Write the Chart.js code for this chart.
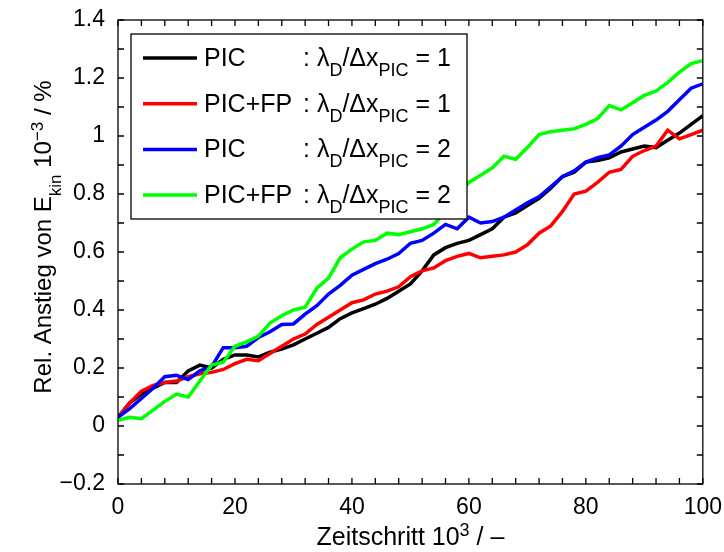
<!DOCTYPE html>
<html>
<head>
<meta charset="utf-8">
<script src="https://cdn.jsdelivr.net/npm/chart.js@4.4.1/dist/chart.umd.min.js"></script>
<style>
  html, body { margin: 0; padding: 0; background: #fff; }
  #wrap { width: 724px; height: 552px; }
</style>
</head>
<body>
<div id="wrap"><canvas id="chart" width="724" height="552"></canvas></div>
<script>
// Zeitschritt (10^3)
const steps = [0, 2, 4, 6, 8, 10, 12, 14, 16, 18, 20, 22, 24, 26, 28, 30, 32, 34, 36, 38, 40,
  42, 44, 46, 48, 50, 52, 54, 56, 58, 60, 62, 64, 66, 68, 70, 72, 74, 76, 78, 80,
  82, 84, 86, 88, 90, 92, 94, 96, 98, 100];

// Rel. Anstieg von E_kin (10^-3 %)
const picRatio1 = [0.03, 0.08, 0.11, 0.13, 0.15, 0.15, 0.19, 0.21, 0.20, 0.23,
  0.245, 0.245, 0.238, 0.255, 0.265, 0.28, 0.30, 0.32, 0.34, 0.37,
  0.39, 0.405, 0.42, 0.44, 0.465, 0.49, 0.535, 0.59, 0.615, 0.63,
  0.64, 0.66, 0.68, 0.72, 0.735, 0.76, 0.785, 0.82, 0.86, 0.875,
  0.91, 0.915, 0.925, 0.945, 0.955, 0.965, 0.96, 0.985, 1.01, 1.04, 1.07];
const picFpRatio1 = [0.03, 0.08, 0.12, 0.14, 0.15, 0.155, 0.17, 0.18, 0.185, 0.195,
  0.215, 0.23, 0.225, 0.25, 0.275, 0.30, 0.317, 0.35, 0.375, 0.40,
  0.425, 0.435, 0.455, 0.465, 0.48, 0.515, 0.535, 0.545, 0.57, 0.585,
  0.595, 0.58, 0.585, 0.59, 0.60, 0.625, 0.665, 0.69, 0.74, 0.80,
  0.81, 0.84, 0.875, 0.885, 0.93, 0.95, 0.965, 1.02, 0.99, 1.005, 1.02];
const picRatio2 = [0.03, 0.06, 0.095, 0.13, 0.17, 0.175, 0.16, 0.19, 0.205, 0.27,
  0.27, 0.275, 0.305, 0.325, 0.35, 0.352, 0.386, 0.415, 0.455, 0.485,
  0.52, 0.54, 0.56, 0.575, 0.595, 0.63, 0.64, 0.665, 0.695, 0.68,
  0.72, 0.70, 0.705, 0.72, 0.745, 0.77, 0.79, 0.825, 0.86, 0.88,
  0.91, 0.925, 0.935, 0.965, 1.005, 1.03, 1.055, 1.085, 1.125, 1.165, 1.18];
const picFpRatio2 = [0.02, 0.03, 0.025, 0.055, 0.085, 0.11, 0.10, 0.155, 0.21, 0.22,
  0.275, 0.29, 0.31, 0.355, 0.38, 0.40, 0.41, 0.475, 0.51, 0.58,
  0.61, 0.635, 0.64, 0.665, 0.66, 0.67, 0.68, 0.695, 0.74, 0.80,
  0.84, 0.865, 0.89, 0.93, 0.92, 0.96, 1.005, 1.015, 1.02, 1.025,
  1.04, 1.06, 1.105, 1.09, 1.115, 1.14, 1.155, 1.185, 1.22, 1.25, 1.26];

const seriesNames = ['PIC', 'PIC+FP', 'PIC', 'PIC+FP'];
const seriesRatios = ['1', '1', '2', '2'];
const seriesColors = ['#000000', '#ff0000', '#0000ff', '#00ff00'];
const seriesValues = [picRatio1, picFpRatio1, picRatio2, picFpRatio2];

const FONT = '"Liberation Sans", Arial, Helvetica, sans-serif';

// Text mit Hoch-/Tiefstellung zeichnen
function drawRich(ctx, parts, x, y, size, align) {
  const small = Math.round(size * 0.7);
  const widths = parts.map(([t, k]) => {
    ctx.font = (k ? small : size) + 'px ' + FONT;
    return ctx.measureText(t).width;
  });
  const total = widths.reduce((a, b) => a + b, 0);
  let cx = align === 'center' ? x - total / 2 : x;
  parts.forEach(([t, k], i) => {
    ctx.font = (k ? small : size) + 'px ' + FONT;
    const dy = k === 'sub' ? size * 0.4 : (k === 'sup' ? -size * 0.35 : 0);
    ctx.fillText(t, cx, y + dy);
    cx += widths[i];
  });
}

const frame = {
  id: 'frame',
  afterDatasetsDraw(chart) {
    const { ctx, chartArea: a, scales } = chart;
    ctx.save();
    ctx.strokeStyle = '#000';
    ctx.lineWidth = 1.3;
    // Achsenrahmen
    ctx.strokeRect(a.left, a.top, a.right - a.left, a.bottom - a.top);
    // Ticks nach innen
    const len = 6;
    ctx.beginPath();
    for (let v = -2; v <= 14; v++) {
      const py = scales.y.getPixelForValue(v / 10);
      ctx.moveTo(a.left, py); ctx.lineTo(a.left + len, py);
      ctx.moveTo(a.right, py); ctx.lineTo(a.right - len, py);
    }
    for (let v = 0; v <= 100; v += 4) {
      const px = scales.x.getPixelForValue(v);
      ctx.moveTo(px, a.bottom); ctx.lineTo(px, a.bottom - len);
      ctx.moveTo(px, a.top); ctx.lineTo(px, a.top + len);
    }
    ctx.stroke();

    // Legende
    const lx = 131, ly = 34, lw = 336, lh = 185;
    ctx.fillStyle = '#fff';
    ctx.fillRect(lx, ly, lw, lh);
    ctx.lineWidth = 1.3;
    ctx.strokeRect(lx, ly, lw, lh);
    ctx.textBaseline = 'alphabetic';
    ctx.textAlign = 'left';
    seriesNames.forEach((name, i) => {
      const rowY = ly + 24 + i * 45.7;
      ctx.strokeStyle = seriesColors[i];
      ctx.lineWidth = 3.5;
      ctx.beginPath();
      ctx.moveTo(143, rowY); ctx.lineTo(197, rowY);
      ctx.stroke();
      ctx.fillStyle = '#000';
      drawRich(ctx, [[name, '']], 204, rowY + 8, 25, 'left');
      drawRich(ctx, [[': \u03bb', ''], ['D', 'sub'], ['/\u0394x', ''], ['PIC', 'sub'],
        [' = ' + seriesRatios[i], '']], 303, rowY + 8, 25, 'left');
    });

    // Achsentitel
    ctx.fillStyle = '#000';
    drawRich(ctx, [['Zeitschritt 10', ''], ['3', 'sup'], [' / \u2013', '']],
      (a.left + a.right) / 2, 545, 25, 'center');
    ctx.translate(51, 237);
    ctx.rotate(-Math.PI / 2);
    drawRich(ctx, [['Rel. Anstieg von E', ''], ['kin', 'sub'], [' 10', ''], ['\u22123', 'sup'],
      [' / %', '']], 0, 0, 24, 'center');
    ctx.restore();
  }
};

new Chart(document.getElementById('chart'), {
  type: 'line',
  data: {
    datasets: seriesValues.map((vals, i) => ({
      label: seriesNames[i] + ' ' + seriesRatios[i],
      data: steps.map((x, j) => ({ x: x, y: vals[j] })),
      borderColor: seriesColors[i],
      borderWidth: 3.5,
      pointRadius: 0,
      tension: 0,
      fill: false,
      order: 3 - i,
    })),
  },
  options: {
    responsive: false,
    animation: false,
    devicePixelRatio: 1,
    layout: { padding: { left: 0, right: 21, top: 20, bottom: 0 } },
    plugins: { legend: { display: false }, tooltip: { enabled: false } },
    scales: {
      x: {
        type: 'linear',
        min: 0,
        max: 100,
        afterFit: (s) => { s.height = 68; },
        grid: { display: false },
        border: { display: false },
        ticks: {
          stepSize: 20,
          autoSkip: false,
          maxRotation: 0,
          padding: 2,
          color: '#000',
          font: { family: FONT, size: 23 },
        },
      },
      y: {
        min: -0.2,
        max: 1.4,
        afterFit: (s) => { s.width = 118; },
        grid: { display: false },
        border: { display: false },
        ticks: {
          stepSize: 0.2,
          padding: 5,
          color: '#000',
          font: { family: FONT, size: 23 },
          callback: (v) => String(Math.round(v * 10) / 10).replace('-', '\u2212'),
        },
      },
    },
  },
  plugins: [frame],
});
</script>
</body>
</html>
